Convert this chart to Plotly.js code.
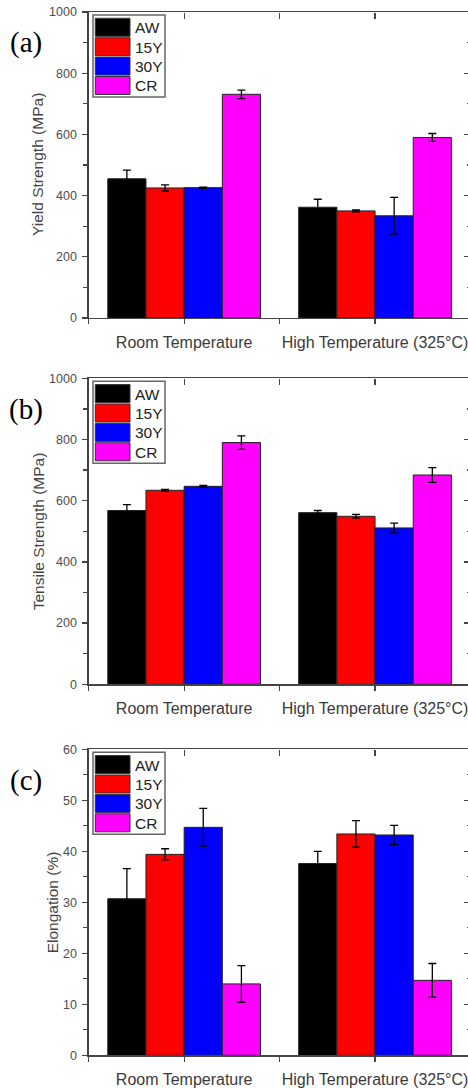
<!DOCTYPE html>
<html>
<head>
<meta charset="utf-8">
<script src="https://cdn.plot.ly/plotly-3.0.1.min.js"></script>
<style>
html,body{margin:0;padding:0;overflow:hidden;background:#fff;}
#chart{width:472px;height:1089px;}
</style>
</head>
<body>
<div id="chart"></div>
<script>
// ---- data ----
const categories = ['Room Temperature', 'High Temperature (325°C)'];
const seriesNames = ['AW', '15Y', '30Y', 'CR'];
const seriesColors = ['#000000', '#ff0000', '#0000ff', '#ff00ff'];

const yieldAW = [455, 362];
const yield15Y = [425, 350];
const yield30Y = [426, 334];
const yieldCR = [731, 590];
const yieldErrAW = [28, 26];
const yieldErr15Y = [10, 3];
const yieldErr30Y = [2, 60];
const yieldErrCR = [14, 13];

const tensileAW = [568, 561];
const tensile15Y = [634, 549];
const tensile30Y = [647, 511];
const tensileCR = [790, 684];
const tensileErrAW = [19, 7];
const tensileErr15Y = [3, 6];
const tensileErr30Y = [3, 16];
const tensileErrCR = [22, 24];

const elongAW = [30.7, 37.6];
const elong15Y = [39.4, 43.4];
const elong30Y = [44.7, 43.2];
const elongCR = [14.0, 14.7];
const elongErrAW = [5.9, 2.4];
const elongErr15Y = [1.1, 2.6];
const elongErr30Y = [3.7, 1.9];
const elongErrCR = [3.6, 3.3];

const panelLabels = ['(a)', '(b)', '(c)'];
const yTitles = ['Yield Strength (MPa)', 'Tensile Strength (MPa)', 'Elongation (%)'];
const yMax = [1000, 1000, 60];
const yMajor = [200, 200, 10];
const yMinor = [100, 100, 5];

const panelData = [
  {vals: [yieldAW, yield15Y, yield30Y, yieldCR], errs: [yieldErrAW, yieldErr15Y, yieldErr30Y, yieldErrCR]},
  {vals: [tensileAW, tensile15Y, tensile30Y, tensileCR], errs: [tensileErrAW, tensileErr15Y, tensileErr30Y, tensileErrCR]},
  {vals: [elongAW, elong15Y, elong30Y, elongCR], errs: [elongErrAW, elongErr15Y, elongErr30Y, elongErrCR]}
];

// ---- layout geometry (px) ----
const W = 472, H = 1089;
const plotLeft = 88.7, plotRight = 470.5;
const panelTops = [12, 378.3, 749.3];
const panelH = 306;
const px2x = p => p / W;
const px2y = p => 1 - p / H;

const xs = categories.map((c, i) => i + 1);
const tickVals = [0.5];
const tickText = [''];
categories.forEach((c, i) => {
  tickVals.push(i + 1); tickText.push(c);
  tickVals.push(i + 1.5); tickText.push('');
});

const axisColor = '#444';
const traces = [];
const layout = {
  width: W, height: H,
  margin: {l: 0, r: 0, t: 0, b: 0, pad: 0},
  paper_bgcolor: '#fff', plot_bgcolor: '#fff',
  showlegend: false,
  barmode: 'group', bargap: 0.2, bargroupgap: 0,
  shapes: [], annotations: []
};

const fontSans = 'Liberation Sans, Arial, sans-serif';

panelData.forEach((pd, p) => {
  const n = p + 1;
  const xa = n === 1 ? 'x' : 'x' + n;
  const ya = n === 1 ? 'y' : 'y' + n;
  const xo = 'x' + (n + 3), yo = 'y' + (n + 3);
  const top = panelTops[p], bot = top + panelH;
  const ydom = [px2y(bot), px2y(top)];
  const xdom = [px2x(plotLeft), px2x(plotRight)];

  seriesNames.forEach((s, k) => {
    traces.push({
      type: 'bar', name: s, x: xs, y: pd.vals[k],
      xaxis: xa, yaxis: ya,
      marker: {color: seriesColors[k], line: {color: '#222', width: 1}},
      error_y: {type: 'data', array: pd.errs[k], visible: true, color: '#000', thickness: 1.3, width: 4},
      hoverinfo: 'skip'
    });
  });
  // overlay axes for the inward ticks on top/right
  traces.push({type: 'scatter', mode: 'markers', x: [], y: [], xaxis: xo, yaxis: yo, hoverinfo: 'skip', showlegend: false});

  layout['xaxis' + (n === 1 ? '' : n)] = {
    domain: xdom, anchor: ya, range: [0.5, 2.5],
    tickmode: 'array', tickvals: tickVals, ticktext: tickText,
    ticks: 'outside', ticklen: 5, tickwidth: 1.3, tickcolor: axisColor,
    ticklabelstandoff: 4,
    showline: true, linecolor: axisColor, linewidth: 1.3, mirror: true,
    showgrid: false, zeroline: false,
    tickfont: {family: fontSans, size: 16, color: '#3a3a3a'}
  };
  layout['yaxis' + (n === 1 ? '' : n)] = {
    domain: ydom, anchor: xa, range: [0, yMax[p]],
    tickmode: 'linear', tick0: 0, dtick: yMajor[p],
    ticks: 'outside', ticklen: 5, tickwidth: 1.3, tickcolor: axisColor,
    ticklabelstandoff: 3,
    minor: {dtick: yMinor[p], tick0: 0, ticks: 'outside', ticklen: 4, tickwidth: 1.3, tickcolor: axisColor},
    showline: true, linecolor: axisColor, linewidth: 1.3, mirror: true,
    showgrid: false, zeroline: false,
    tickfont: {family: fontSans, size: 12.5, color: '#4d4d4d'}
  };
  layout['xaxis' + (n + 3)] = {
    overlaying: xa, side: 'top', anchor: 'free', position: ydom[1],
    range: [0.5, 2.5], tickmode: 'array', tickvals: xs.concat([1.5]),
    ticks: 'inside', ticklen: 6, tickwidth: 1.3, tickcolor: axisColor,
    showticklabels: false, showline: false, showgrid: false, zeroline: false
  };
  layout['yaxis' + (n + 3)] = {
    overlaying: ya, side: 'right', anchor: 'free', position: xdom[1],
    range: [0, yMax[p]], tickmode: 'linear', tick0: 0, dtick: yMajor[p],
    ticks: 'inside', ticklen: 7, tickwidth: 1.3, tickcolor: axisColor,
    minor: {dtick: yMinor[p], tick0: 0, ticks: 'inside', ticklen: 4, tickwidth: 1.3, tickcolor: axisColor},
    showticklabels: false, showline: false, showgrid: false, zeroline: false
  };

  const off = top - 12;
  // panel label
  layout.annotations.push({
    xref: 'paper', yref: 'paper', x: px2x(26), y: px2y(43 + off),
    xanchor: 'center', yanchor: 'middle', showarrow: false,
    text: panelLabels[p], font: {family: 'Liberation Serif, Times New Roman, serif', size: 29, color: '#000'}
  });
  // y title
  layout.annotations.push({
    xref: 'paper', yref: 'paper', x: px2x(p === 2 ? 52 : 38), y: px2y(top + panelH / 2),
    xanchor: 'center', yanchor: 'middle', showarrow: false, textangle: -90,
    text: yTitles[p], font: {family: fontSans, size: 15.5, color: '#444'}
  });
  // custom legend
  layout.shapes.push({
    type: 'rect', xref: 'paper', yref: 'paper',
    x0: px2x(93), x1: px2x(165), y0: px2y(15 + off), y1: px2y(97 + off),
    line: {color: '#666', width: 1.5}, fillcolor: '#fff', layer: 'above'
  });
  seriesNames.forEach((s, k) => {
    const y0 = 18.3 + k * 19.4 + off;
    layout.shapes.push({
      type: 'rect', xref: 'paper', yref: 'paper',
      x0: px2x(95.3), x1: px2x(130), y0: px2y(y0), y1: px2y(y0 + 18),
      line: {color: '#333', width: 1}, fillcolor: seriesColors[k], layer: 'above'
    });
    layout.annotations.push({
      xref: 'paper', yref: 'paper', x: px2x(133), y: px2y(y0 + 9.5),
      xanchor: 'left', yanchor: 'middle', showarrow: false,
      text: s, font: {family: fontSans, size: 15.5, color: '#222'}
    });
  });
});

Plotly.newPlot('chart', traces, layout, {displayModeBar: false, staticPlot: true});
</script>
</body>
</html>
